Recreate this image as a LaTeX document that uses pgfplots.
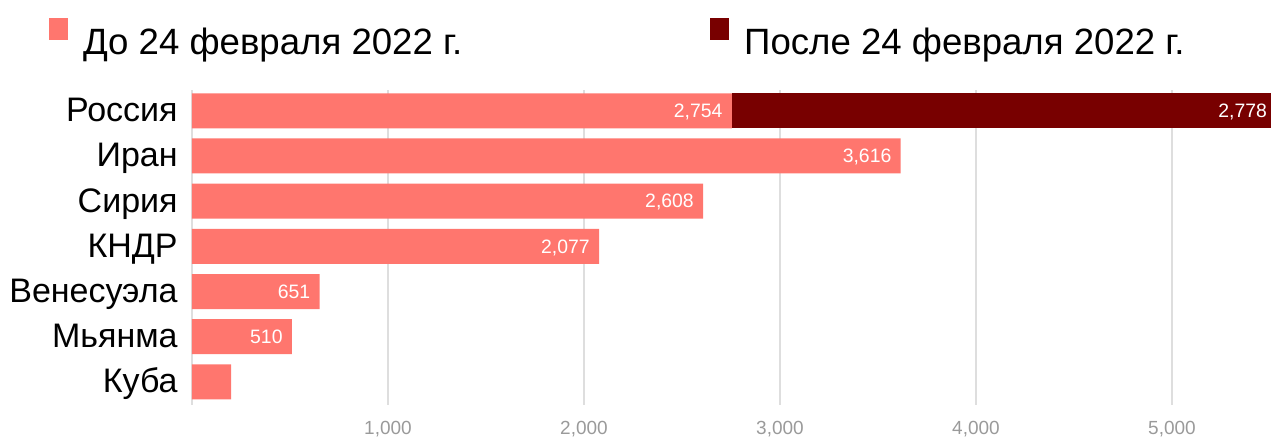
\documentclass[border=0pt]{standalone}
\usepackage{fontspec}
\setmainfont{Liberation Sans}
\usepackage{pgfplots}
\pgfplotsset{compat=1.18}
\usepackage{pgfplotstable}
\definecolor{before}{HTML}{FF766E}
\definecolor{after}{HTML}{780000}
\definecolor{gridc}{HTML}{DEDEDE}
\definecolor{tickc}{HTML}{9A9A9A}

% bars before 24 Feb 2022
\pgfplotstableread{
y x
6 2754
5 3616
4 2608
3 2077
2 651
1 510
0 200
}\tbefore

% bars after 24 Feb 2022 (stacked on Russia)
\pgfplotstableread{
y x
6 2778
}\tafter

% value labels, placed at the right end of each segment
\pgfplotstableread{
y x label
6 2754 {2,754}
6 5532 {2,778}
5 3616 {3,616}
4 2608 {2,608}
3 2077 {2,077}
2 651 {651}
1 510 {510}
}\tlabels

\begin{document}
\begin{tikzpicture}
\useasboundingbox (-96pt,-16pt) rectangle (539.5pt,202.5pt);
\begin{axis}[
  scale only axis, width=539.5pt, height=157.5pt,
  stack plots=x, bar width=17.5pt, bar shift=0pt,
  xmin=0, xmax=5505, ymin=-0.51, ymax=6.46,
  clip=false,
  axis line style={draw=none},
  xtick={0,1000,2000,3000,4000,5000},
  xticklabels={{},{1,000},{2,000},{3,000},{4,000},{5,000}},
  ytick={0,1,2,3,4,5,6},
  yticklabels={Куба,Мьянма,Венесуэла,КНДР,Сирия,Иран,Россия},
  major tick length=0pt,
  xmajorgrids, major grid style={draw=gridc, line width=0.7pt},
  xticklabel style={font=\fontsize{9.5}{11}\selectfont, text=tickc, anchor=base, inner sep=0pt, yshift=-15pt},
  yticklabel style={font=\fontsize{17}{20}\selectfont, anchor=base east, inner sep=0pt, xshift=-7pt, yshift=-5.5pt},
  legend columns=2,
  legend cell align=left,
  legend style={draw=none, fill=none, inner sep=0pt, outer sep=0pt,
    nodes={inner sep=0pt, font=\fontsize{18.3}{20}\selectfont},
    /tikz/every odd column/.append style={column sep=7.5pt},
    /tikz/every even column/.append style={column sep=124pt},
    at={(axis description cs:-0.1325,1.103)}, anchor=south west},
]
\addplot[xbar, bar shift=0pt, fill=before, draw=none,
  legend image code/.code={\fill[before] (0pt,1.5pt) rectangle (9.5pt,12.5pt);}]
  table[x=x, y=y] {\tbefore};
\addlegendentry{До 24 февраля 2022 г.}
\addplot[xbar, bar shift=0pt, fill=after, draw=none,
  legend image code/.code={\fill[after] (0pt,1.5pt) rectangle (9.5pt,12.5pt);}]
  table[x=x, y=y] {\tafter};
\addlegendentry{После 24 февраля 2022 г.}
\addplot[sharp plot, draw=none, mark=none, stack plots=false, forget plot,
  nodes near coords, point meta=explicit symbolic,
  every node near coord/.append style={font=\fontsize{9.7}{11}\selectfont, text=white, anchor=base east, inner sep=0pt, xshift=-4.5pt, yshift=-3.4pt}]
  table[x=x, y=y, meta=label] {\tlabels};
\end{axis}
\end{tikzpicture}
\end{document}
